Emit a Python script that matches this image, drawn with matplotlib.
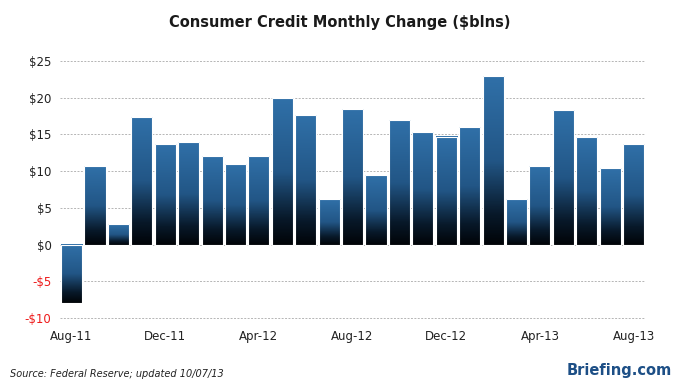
import numpy as np
import matplotlib
matplotlib.use("Agg")
import matplotlib.pyplot as plt
from matplotlib.colors import LinearSegmentedColormap

# monthly change in consumer credit, $ billions (Aug-11 .. Aug-13)
months = ["Aug-11", "Sep-11", "Oct-11", "Nov-11", "Dec-11", "Jan-12", "Feb-12",
          "Mar-12", "Apr-12", "May-12", "Jun-12", "Jul-12", "Aug-12", "Sep-12",
          "Oct-12", "Nov-12", "Dec-12", "Jan-13", "Feb-13", "Mar-13", "Apr-13",
          "May-13", "Jun-13", "Jul-13", "Aug-13"]
change = [-8.0, 10.7, 2.8, 17.3, 13.7, 13.9, 12.0, 11.0, 12.0, 20.0, 17.6, 6.2,
          18.5, 9.5, 17.0, 15.3, 14.7, 16.0, 23.0, 6.2, 10.7, 18.3, 14.6, 10.4, 13.7]
tick_months = ["Aug-11", "Dec-11", "Apr-12", "Aug-12", "Dec-12", "Apr-13", "Aug-13"]
y_ticks = [-10, -5, 0, 5, 10, 15, 20, 25]

size_labels = 8.5
bar_w = 0.9

grad = LinearSegmentedColormap.from_list(
    "bar", [(0, "#010408"), (0.18, "#08192a"), (0.5, "#225686"), (1, "#3070a8")])

fig = plt.figure(figsize=(6.8, 3.89), dpi=100)
ax = fig.add_axes([0.088, 0.173, 0.861, 0.68])
ax.set_axisbelow(True)

x = np.arange(len(months))
g = np.linspace(0, 1, 100).reshape(-1, 1)
for xi, v in zip(x, change):
    lo, hi = min(0, v), max(0, v)
    ax.imshow(g, cmap=grad, origin="lower", aspect="auto", zorder=2,
              extent=[xi - bar_w / 2, xi + bar_w / 2, lo, hi])
ax.bar(x, change, width=bar_w, facecolor="none", edgecolor="white",
       linewidth=0.8, zorder=3)

ax.set_xlim(-0.5, len(months) - 0.5)
ax.set_ylim(-10.5, 25.5)

ax.set_yticks(y_ticks)
ax.set_yticklabels([("-$%d" % -t) if t < 0 else ("$%d" % t) for t in y_ticks])
ax.set_xticks([months.index(m) for m in tick_months])
ax.set_xticklabels(tick_months)
ax.tick_params(length=0, labelsize=size_labels, colors="#222222", pad=6)
for lab, t in zip(ax.get_yticklabels(), y_ticks):
    if t < 0:
        lab.set_color("#ee1c1c")

ax.grid(axis="y", color="#b5b5b5", linestyle=(0, (2, 1.5)), linewidth=0.7)
for s in ax.spines.values():
    s.set_visible(False)

fig.text(0.5, 0.943, "Consumer Credit Monthly Change ($blns)", ha="center",
         va="center", fontsize=10.5, fontweight="bold", color="#1a1a1a")
fig.text(0.014, 0.038, "Source: Federal Reserve; updated 10/07/13", ha="left",
         va="center", fontsize=7, style="italic", color="#222222")
fig.text(0.988, 0.048, "Briefing.com", ha="right", va="center", fontsize=10.5,
         fontweight="bold", color="#1d4f86")

fig.savefig("out.png", dpi=100, facecolor="white")
